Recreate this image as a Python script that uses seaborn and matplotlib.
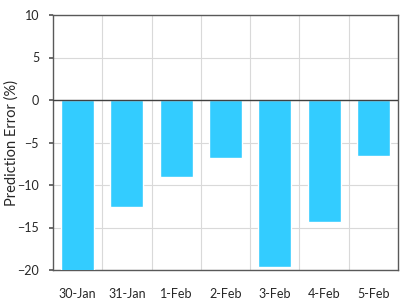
import matplotlib
matplotlib.use("Agg")
import matplotlib.pyplot as plt
import seaborn as sns
import pandas as pd

dates = ["30-Jan", "31-Jan", "1-Feb", "2-Feb", "3-Feb", "4-Feb", "5-Feb"]
errors = [-20.1, -12.6, -9.1, -6.8, -19.7, -14.3, -6.6]

sns.set_theme(style="white")
plt.rcParams['font.family'] = ['Lato', 'DejaVu Sans']

df = pd.DataFrame({"date": dates, "err": errors})
fig = plt.figure(figsize=(4.05, 2.99), dpi=100)
ax = fig.add_axes([53/405, 1-270/299, 345/405, 255/299])
sns.barplot(data=df, x="date", y="err", color="#33CCFF", saturation=1, width=0.67, ax=ax, zorder=3)
ax.set_ylim(-20, 10)
ax.set_xlim(-0.5, 6.5)
ax.set_yticks([-20, -15, -10, -5, 0, 5, 10])
ax.set_xticks([i + 0.5 for i in range(6)], minor=True)
ax.grid(True, axis="y", color="#D9D9D9", linewidth=0.8, zorder=0)
ax.grid(True, axis="x", which="minor", color="#D9D9D9", linewidth=0.8, zorder=0)
ax.axhline(0, color="#404040", linewidth=1.0, zorder=4)
for s in ax.spines.values():
    s.set_color("#595959")
    s.set_linewidth(1.0)
ax.tick_params(axis="y", which="major", left=True, length=3, color="#595959", labelsize=9, pad=7, labelcolor="#262626")
ax.tick_params(axis="x", which="both", bottom=False, labelsize=9, pad=7, labelcolor="#262626")
ax.set_xlabel("")
ax.set_ylabel("Prediction Error (%)", fontsize=10.5, color="#262626")
ax.yaxis.set_label_coords((19 - 53) / 345, 0.5)
fig.savefig("out.png", dpi=100)
